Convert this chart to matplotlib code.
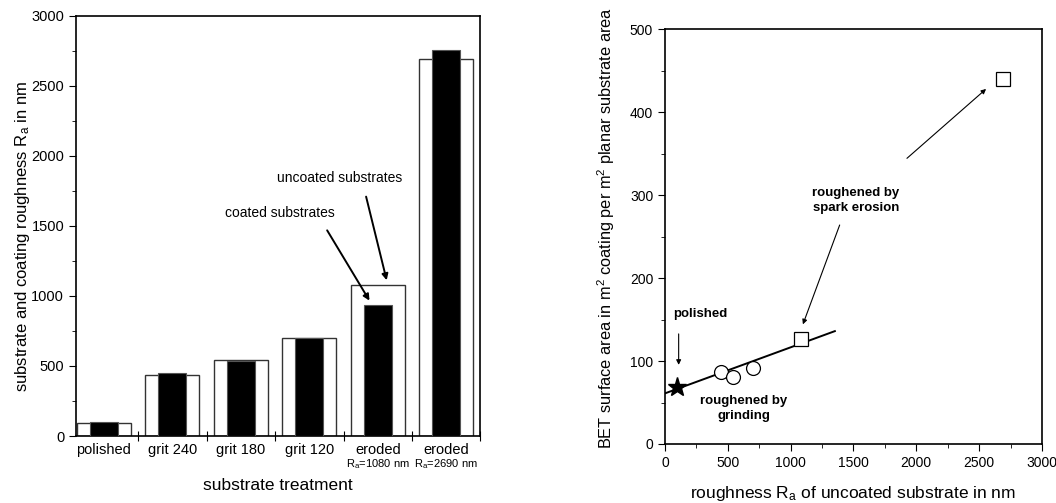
import numpy as np
import matplotlib
matplotlib.use("Agg")
import matplotlib.pyplot as plt
from matplotlib.ticker import MultipleLocator

plt.rcParams['font.family'] = ['Liberation Sans', 'DejaVu Sans']
plt.rcParams['mathtext.fontset'] = 'custom'
plt.rcParams['mathtext.rm'] = 'Liberation Sans'
plt.rcParams['mathtext.it'] = 'Liberation Sans'

# left panel: roughness per substrate treatment
treatments = ["polished", "grit 240", "grit 180", "grit 120", "eroded", "eroded"]
treatment_sub = ["", "", "", "", "R$_a$=1080 nm", "R$_a$=2690 nm"]
ra_uncoated = [95, 437, 545, 700, 1080, 2690]
ra_coated = [102, 448, 538, 700, 933, 2760]

# right panel: BET surface area vs roughness
polished_x = [98]
polished_y = [69]
ground_x = [443, 544, 703]
ground_y = [87, 81, 91]
eroded_x = [1082, 2690]
eroded_y = [126, 440]
fit_x = [0, 1352]
fit_y = [61, 136]

fig = plt.figure(figsize=(10.56, 5.03), dpi=100)

# ---- left chart ----
ax1 = fig.add_axes([0.072, 0.1332, 0.383, 0.8350])
pos = np.arange(len(treatments))
ax1.bar(pos, ra_uncoated, width=0.79, color="white", edgecolor="#333333", linewidth=1.0, zorder=2)
ax1.bar(pos, ra_coated, width=0.41, color="black", edgecolor="#555555", linewidth=0.8, zorder=3)
ax1.set_xlim(-0.406, 5.36)
ax1.set_ylim(0, 3000)
ax1.yaxis.set_major_locator(MultipleLocator(500))
ax1.yaxis.set_minor_locator(MultipleLocator(250))
ax1.tick_params(axis="y", which="major", direction="out", length=5, labelsize=10.5)
ax1.tick_params(axis="y", which="minor", direction="out", length=3)
ax1.set_xticks(pos + 0.5, minor=False)
ax1.set_xticklabels([])
ax1.tick_params(axis="x", which="major", direction="inout", length=7)
ax1.set_xticks(pos, minor=True)
ax1.set_xticklabels(treatments, minor=True, fontsize=10.5)
ax1.tick_params(axis="x", which="minor", length=0, pad=5)
for i, s in enumerate(treatment_sub):
    if s:
        ax1.text(i, -0.068, s, transform=ax1.get_xaxis_transform(), ha="center", va="center", fontsize=8)
ax1.set_xlabel("substrate treatment", fontsize=12.5, labelpad=15)
ax1.set_ylabel("substrate and coating roughness R$_a$ in nm", fontsize=12)
ax1.yaxis.set_label_coords(-0.108, 0.474)
for sp in ax1.spines.values():
    sp.set_linewidth(1.2)

ax1.annotate("", xy=(4.14, 1093), xytext=(3.82, 1729),
             arrowprops=dict(arrowstyle="-|>", color="black", lw=1.4, mutation_scale=9))
ax1.text(3.44, 1843, "uncoated substrates", ha="center", va="center", fontsize=10)
ax1.annotate("", xy=(3.90, 950), xytext=(3.24, 1486),
             arrowprops=dict(arrowstyle="-|>", color="black", lw=1.4, mutation_scale=9))
ax1.text(2.57, 1593, "coated substrates", ha="center", va="center", fontsize=10)

# ---- right chart ----
ax2 = fig.add_axes([0.6297, 0.1173, 0.357, 0.825])
ax2.plot(fit_x, fit_y, color="black", lw=1.4, zorder=2)
ax2.plot(polished_x, polished_y, "*", color="black", ms=14, zorder=3)
ax2.plot(ground_x, ground_y, "o", mfc="white", mec="black", mew=0.9, ms=10, zorder=3)
ax2.plot(eroded_x, eroded_y, "s", mfc="white", mec="black", mew=0.9, ms=10, zorder=3)
ax2.set_xlim(0, 3000)
ax2.set_ylim(0, 500)
ax2.xaxis.set_major_locator(MultipleLocator(500))
ax2.xaxis.set_minor_locator(MultipleLocator(250))
ax2.yaxis.set_major_locator(MultipleLocator(100))
ax2.yaxis.set_minor_locator(MultipleLocator(50))
ax2.tick_params(which="major", direction="out", length=5, labelsize=10)
ax2.tick_params(which="minor", direction="out", length=3)
ax2.set_xlabel("roughness R$_a$ of uncoated substrate in nm", fontsize=12.5, labelpad=10)
ax2.set_ylabel("BET surface area in m$^2$ coating per m$^2$ planar substrate area", fontsize=11.8)
ax2.yaxis.set_label_coords(-0.127, 0.52)
for sp in ax2.spines.values():
    sp.set_linewidth(1.2)

ax2.text(278, 157, "polished", ha="center", va="center", fontsize=9.5, fontweight="bold")
ax2.annotate("", xy=(109, 92), xytext=(109, 136),
             arrowprops=dict(arrowstyle="-|>", color="black", lw=0.8, mutation_scale=7))
ax2.text(629, 43, "roughened by\ngrinding", ha="center", va="center", fontsize=9.5, fontweight="bold",
         linespacing=1.3)
ax2.text(1521, 293, "roughened by\nspark erosion", ha="center", va="center", fontsize=9.5,
         fontweight="bold", linespacing=1.3)
ax2.annotate("", xy=(1090, 141), xytext=(1398, 267),
             arrowprops=dict(arrowstyle="-|>", color="black", lw=0.8, mutation_scale=7))
ax2.annotate("", xy=(2572, 430), xytext=(1909, 342),
             arrowprops=dict(arrowstyle="-|>", color="black", lw=0.8, mutation_scale=7))

fig.savefig("out.png", dpi=100)
